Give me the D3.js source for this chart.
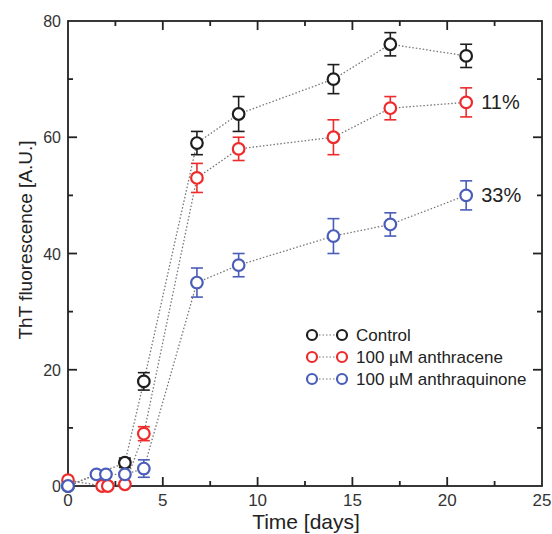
<!DOCTYPE html>
<meta charset="utf-8">
<body style="margin:0;background:#fff;">
<svg width="552" height="534"></svg>
<script src="https://cdn.jsdelivr.net/npm/d3@7"></script>
<script>
    // data
    let controlDays = [0, 3, 4, 6.8, 9, 14, 17, 21];
    let controlVals = [0, 4, 18, 59, 64, 70, 76, 74];
    let controlErr = [0, 0.8, 1.5, 2, 3, 2.5, 2, 2];

    let anthraceneDays = [0, 1.8, 2.1, 3, 4, 6.8, 9, 14, 17, 21];
    let anthraceneVals = [1, 0, 0, 0.3, 9, 53, 58, 60, 65, 66];
    let anthraceneErr = [0, 0, 0, 0, 1.2, 2.5, 2, 3, 2, 2.5];

    let anthraquinoneDays = [0, 1.5, 2, 3, 4, 6.8, 9, 14, 17, 21];
    let anthraquinoneVals = [0, 2, 2, 2, 3, 35, 38, 43, 45, 50];
    let anthraquinoneErr = [0, 0, 0, 0, 1.5, 2.5, 2, 3, 2, 2.5];

    let seriesNames = ["Control", "100 \u00b5M anthracene", "100 \u00b5M anthraquinone"];
    let seriesColors = ["#1e1e1e", "#ee2b2b", "#4a5db8"];
    let endLabels = [null, "11%", "33%"];

    let xTicks = [0, 5, 10, 15, 20, 25];
    let yTicks = [0, 20, 40, 60, 80];

    let series = [
        { days: controlDays, vals: controlVals, err: controlErr },
        { days: anthraceneDays, vals: anthraceneVals, err: anthraceneErr },
        { days: anthraquinoneDays, vals: anthraquinoneVals, err: anthraquinoneErr },
    ];

    let svg = d3.select("svg"),
        pLeft = 68, pRight = 542, pTop = 21, pBottom = 486;
    let x = d3.scaleLinear().domain([0, 25]).range([pLeft, pRight]),
        y = d3.scaleLinear().domain([0, 80]).range([pBottom, pTop]);

    let font = "Liberation Sans, Arial, sans-serif";
    let ink = "#222";

    // frame with inward ticks on all sides
    let minorX = d3.range(2.5, 25, 5), minorY = d3.range(10, 80, 20);
    let axes = svg.append("g").attr("stroke", ink).attr("stroke-width", 1.8);
    let tick = (x1, y1, x2, y2) => axes.append("line").attr("x1", x1).attr("y1", y1).attr("x2", x2).attr("y2", y2);
    xTicks.slice(1, -1).forEach(t => { tick(x(t), pBottom, x(t), pBottom - 9); tick(x(t), pTop, x(t), pTop + 9); });
    minorX.forEach(t => { tick(x(t), pBottom, x(t), pBottom - 5); tick(x(t), pTop, x(t), pTop + 5); });
    yTicks.slice(1, -1).forEach(t => { tick(pLeft, y(t), pLeft + 9, y(t)); tick(pRight, y(t), pRight - 9, y(t)); });
    minorY.forEach(t => { tick(pLeft, y(t), pLeft + 5, y(t)); tick(pRight, y(t), pRight - 5, y(t)); });
    axes.append("rect").attr("x", pLeft).attr("y", pTop).attr("width", pRight - pLeft).attr("height", pBottom - pTop)
        .attr("fill", "none");

    // tick labels
    svg.append("g").selectAll("text").data(xTicks).join("text")
        .attr("x", d => x(d)).attr("y", pBottom + 20)
        .attr("text-anchor", "middle").attr("font-family", font).attr("font-size", 17).attr("fill", "#333")
        .text(d => d);
    svg.append("g").selectAll("text").data(yTicks).join("text")
        .attr("x", pLeft - 7).attr("y", d => y(d) + 6)
        .attr("text-anchor", "end").attr("font-family", font).attr("font-size", 16).attr("fill", "#333")
        .text(d => d);

    svg.append("text").attr("x", 306).attr("y", 529)
        .attr("text-anchor", "middle").attr("font-family", font).attr("font-size", 21).attr("fill", "#222")
        .text("Time [days]");
    svg.append("text").attr("transform", "translate(32,240) rotate(-90)")
        .attr("text-anchor", "middle").attr("font-family", font).attr("font-size", 19).attr("fill", "#222")
        .text("ThT fluorescence [A.U.]");

    let line = d3.line().x(d => x(d.t)).y(d => y(d.v));

    series.forEach((s, i) => {
        let pts = s.days.map((t, j) => ({ t: t, v: s.vals[j], e: s.err[j] }));
        let g = svg.append("g");
        g.append("path").attr("d", line(pts)).attr("fill", "none")
            .attr("stroke", "#777").attr("stroke-width", 1.3).attr("stroke-dasharray", "1.5,2");
        let eb = g.selectAll(".eb").data(pts.filter(d => d.e > 0)).join("g")
            .attr("stroke", seriesColors[i]).attr("stroke-width", 1.6);
        eb.append("line").attr("x1", d => x(d.t)).attr("x2", d => x(d.t))
            .attr("y1", d => y(d.v + d.e)).attr("y2", d => y(d.v - d.e));
        eb.append("line").attr("x1", d => x(d.t) - 6).attr("x2", d => x(d.t) + 6)
            .attr("y1", d => y(d.v + d.e)).attr("y2", d => y(d.v + d.e));
        eb.append("line").attr("x1", d => x(d.t) - 6).attr("x2", d => x(d.t) + 6)
            .attr("y1", d => y(d.v - d.e)).attr("y2", d => y(d.v - d.e));
        g.selectAll("circle").data(pts).join("circle")
            .attr("cx", d => x(d.t)).attr("cy", d => y(d.v)).attr("r", 5.8)
            .attr("fill", "#fff").attr("stroke", seriesColors[i]).attr("stroke-width", 2.2);
        if (endLabels[i]) {
            let last = pts[pts.length - 1];
            svg.append("text").attr("x", x(last.t) + 15).attr("y", y(last.v) + 7)
                .attr("font-family", font).attr("font-size", 20).attr("fill", "#222")
                .text(endLabels[i]);
        }
    });

    // legend
    let legend = svg.append("g");
    seriesNames.forEach((name, i) => {
        let ly = 335 + i * 22;
        legend.append("line").attr("x1", 312).attr("x2", 342).attr("y1", ly).attr("y2", ly)
            .attr("stroke", "#777").attr("stroke-width", 1.2).attr("stroke-dasharray", "1.5,2");
        [312, 342].forEach(cx => legend.append("circle").attr("cx", cx).attr("cy", ly).attr("r", 5)
            .attr("fill", "#fff").attr("stroke", seriesColors[i]).attr("stroke-width", 2.2));
        legend.append("text").attr("x", 356).attr("y", ly + 6)
            .attr("font-family", font).attr("font-size", 17).attr("fill", "#222")
            .text(name);
    });
</script>
</body>
